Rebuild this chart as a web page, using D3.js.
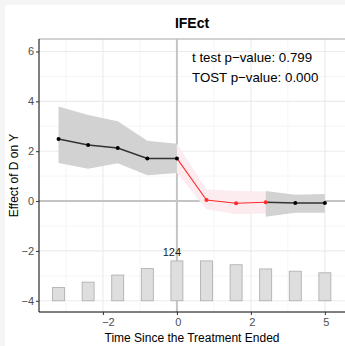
<!DOCTYPE html>
<html>
<head>
<meta charset="utf-8">
<script src="https://cdn.jsdelivr.net/npm/d3@7"></script>
<style>
  body { margin: 0; background: #f5f5f5; }
  text { font-family: "Liberation Sans", Arial, sans-serif; }
</style>
</head>
<body>
<div id="chart"></div>
<script>
// data
const times = [-4, -3, -2, -1, 0, 1, 2, 3, 4, 5];
const effect = [2.49, 2.25, 2.13, 1.71, 1.71, 0.04, -0.09, -0.05, -0.08, -0.08];
const ciUpper = [3.79, 3.45, 3.2, 2.42, 2.3, 0.47, 0.4, 0.38, 0.25, 0.28];
const ciLower = [1.53, 1.3, 1.52, 1.04, 1.13, -0.33, -0.53, -0.5, -0.47, -0.47];
// grey band after the off-treatment window
const postUpper = [0.4, 0.25, 0.28];
const postLower = [-0.63, -0.47, -0.47];
const counts = [41, 58, 80, 100, 124, 124, 112, 99, 92, 87];
const xTicks = [-2.5, 0, 2.5, 5];
const xTickLabels = ["\u22122", "0", "2", "5"];
const yTicks = [-4, -2, 0, 2, 4, 6];

const width = 345, height = 346;
const padL = 39, padR = 345, padT = 39, padB = 312;

const svg = d3.select('#chart').append('svg')
  .attr('width', width).attr('height', height);

svg.append('rect').attr('x', 5).attr('y', 5)
  .attr('width', width).attr('height', height).attr('fill', '#fff');

const x = d3.scaleLinear().domain([-4.66, 5.68]).range([padL, padR]);
const y = d3.scaleLinear().domain([-4.45, 6.5]).range([padB, padT]);
const barY = d3.scaleLinear().domain([0, 124]).range([-4, -2.4]);

// grid
const g = svg.append('g');
const minorX = [-3.75, -1.25, 1.25, 3.75];
const minorY = [-3, -1, 1, 3, 5];
g.selectAll('.mx').data(minorX).enter().append('line')
  .attr('x1', d => x(d)).attr('x2', d => x(d)).attr('y1', padT).attr('y2', padB)
  .attr('stroke', '#f2f2f2').attr('stroke-width', 0.8);
g.selectAll('.my').data(minorY).enter().append('line')
  .attr('y1', d => y(d)).attr('y2', d => y(d)).attr('x1', padL).attr('x2', padR)
  .attr('stroke', '#f2f2f2').attr('stroke-width', 0.8);
g.selectAll('.gx').data(xTicks).enter().append('line')
  .attr('x1', d => x(d)).attr('x2', d => x(d)).attr('y1', padT).attr('y2', padB)
  .attr('stroke', '#ebebeb').attr('stroke-width', 1.1);
g.selectAll('.gy').data(yTicks).enter().append('line')
  .attr('y1', d => y(d)).attr('y2', d => y(d)).attr('x1', padL).attr('x2', padR)
  .attr('stroke', '#ebebeb').attr('stroke-width', 1.1);

// top border
svg.append('line').attr('x1', padL).attr('x2', padR).attr('y1', padT).attr('y2', padT)
  .attr('stroke', '#a6a6a6').attr('stroke-width', 1.2);

// zero lines
svg.append('line').attr('x1', padL).attr('x2', padR).attr('y1', y(0)).attr('y2', y(0))
  .attr('stroke', '#c4c4c4').attr('stroke-width', 2);
svg.append('line').attr('x1', x(0)).attr('x2', x(0)).attr('y1', padT).attr('y2', padB)
  .attr('stroke', '#c4c4c4').attr('stroke-width', 2);

// bars
svg.selectAll('.bar').data(times).enter().append('rect')
  .attr('x', d => x(d) - 6).attr('width', 12)
  .attr('y', (d, i) => y(barY(counts[i])))
  .attr('height', (d, i) => y(-4) - y(barY(counts[i])))
  .attr('fill', '#dedede').attr('stroke', '#ababab').attr('stroke-width', 0.8);

svg.append('text').attr('x', x(0) - 5).attr('y', y(barY(124)) - 5)
  .attr('text-anchor', 'middle').attr('font-size', 11).attr('fill', '#1a1a1a').text('124');

// bands
const area = d3.area().x(d => x(d.t)).y0(d => y(d.lo)).y1(d => y(d.hi));
const pts = times.map((t, i) => ({t: t, v: effect[i], hi: ciUpper[i], lo: ciLower[i]}));
svg.append('path').datum(pts.slice(0, 5)).attr('d', area)
  .attr('fill', '#d2d2d2');
svg.append('path').datum(pts.slice(4, 8)).attr('d', area)
  .attr('fill', '#fdecef');
const post = [3, 4, 5].map((t, i) => ({t: t, hi: postUpper[i], lo: postLower[i]}));
svg.append('path').datum(post).attr('d', area)
  .attr('fill', '#d2d2d2');

// lines
const line = d3.line().x(d => x(d.t)).y(d => y(d.v));
svg.append('path').datum(pts.slice(0, 5)).attr('d', line)
  .attr('fill', 'none').attr('stroke', '#333').attr('stroke-width', 1.5);
svg.append('path').datum(pts.slice(4, 8)).attr('d', line)
  .attr('fill', 'none').attr('stroke', '#ff2a2a').attr('stroke-width', 1.1);
svg.append('path').datum(pts.slice(7)).attr('d', line)
  .attr('fill', 'none').attr('stroke', '#333').attr('stroke-width', 1.5);

svg.selectAll('.pt').data(pts).enter().append('circle')
  .attr('cx', d => x(d.t)).attr('cy', d => y(d.v)).attr('r', 2)
  .attr('fill', d => (d.t >= 1 && d.t <= 3) ? '#ff2a2a' : '#000');

// axes
const xAxis = d3.axisBottom(x).tickValues(xTicks)
  .tickFormat((d, i) => xTickLabels[i]).tickSize(3).tickPadding(3);
const ya = d3.axisLeft(y).tickValues(yTicks)
  .tickFormat(d => d < 0 ? '\u2212' + Math.abs(d) : d).tickSize(3).tickPadding(2);

const gx = svg.append('g').attr('transform', `translate(0,${padB})`).call(xAxis);
const gy = svg.append('g').attr('transform', `translate(${padL},0)`).call(ya);
[gx, gy].forEach(a => {
  a.select('.domain').attr('stroke', '#000').attr('stroke-width', 1);
  a.selectAll('.tick line').attr('stroke', '#333');
  a.selectAll('.tick text').attr('font-size', 11).attr('fill', '#4d4d4d')
    .style('font-family', '"Liberation Sans", Arial, sans-serif');
});
gx.selectAll('.tick text').attr('dx', (d, i) => i === 0 ? 5 : 1);
gx.select('.domain').attr('d', `M${padL},0H${padR}`);
gy.select('.domain').attr('d', `M0,${padT}V${padB}`);

// titles
svg.append('text').attr('x', (padL + padR) / 2).attr('y', 28)
  .attr('text-anchor', 'middle').attr('font-size', 14).attr('font-weight', 'bold')
  .text('IFEct');
svg.append('text').attr('x', (padL + padR) / 2).attr('y', 342)
  .attr('text-anchor', 'middle').attr('font-size', 12).text('Time Since the Treatment Ended');
svg.append('text').attr('transform', `translate(18,${(padT + padB) / 2}) rotate(-90)`)
  .attr('text-anchor', 'middle').attr('font-size', 12).text('Effect of D on Y');

svg.append('text').attr('x', 192).attr('y', 62).attr('font-size', 13.3)
  .text('t test p\u2212value: 0.799');
svg.append('text').attr('x', 192).attr('y', 82).attr('font-size', 13.3)
  .text('TOST p\u2212value: 0.000');
</script>
</body>
</html>
